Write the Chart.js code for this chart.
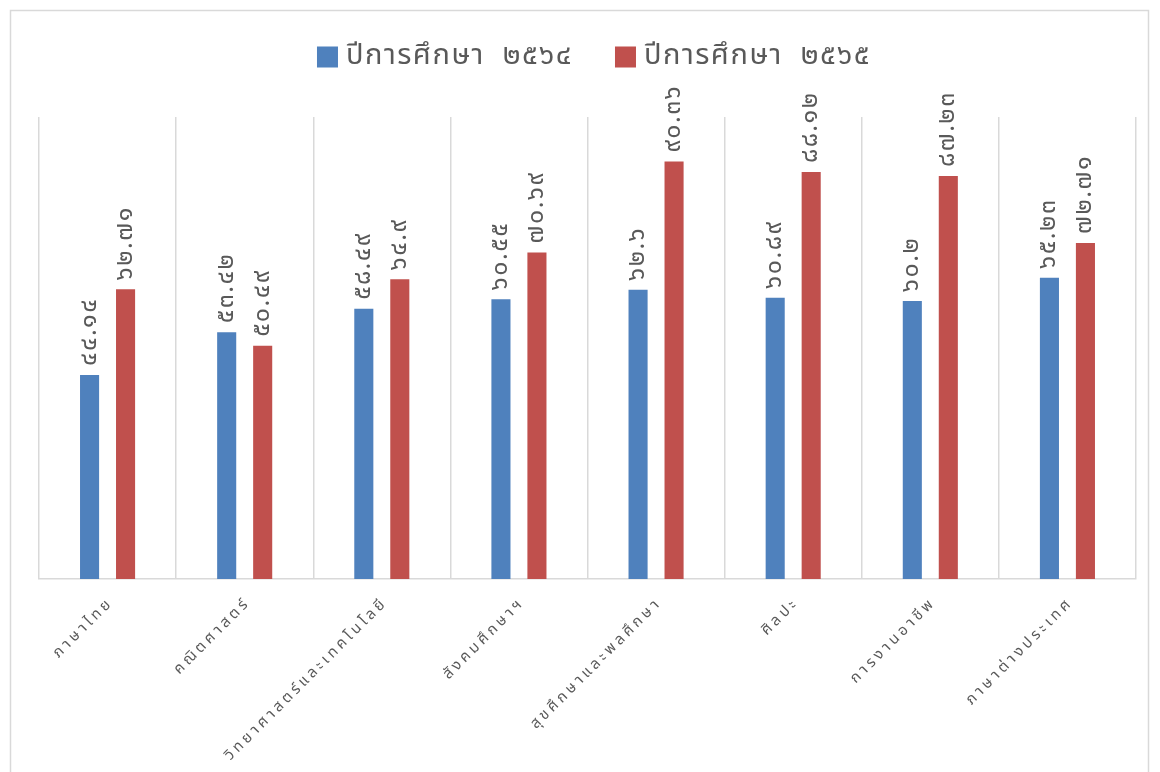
<!DOCTYPE html>
<html><head><meta charset="utf-8">
<script src="https://cdn.jsdelivr.net/npm/chart.js@4.4.0/dist/chart.umd.min.js"></script>
<style>html,body{margin:0;padding:0;background:#fff}#wrap{width:1160px;height:772px;position:relative}</style>
</head><body><div id="wrap"><canvas id="c" width="1160" height="772"></canvas></div>
<script>
const categories = ['ภาษาไทย','คณิตศาสตร์','วิทยาศาสตร์และเทคโนโลยี','สังคมศึกษาฯ','สุขศึกษาและพลศึกษา','ศิลปะ','การงานอาชีพ','ภาษาต่างประเทศ'];
const series2564 = [44.14, 53.42, 58.49, 60.55, 62.6, 60.89, 60.2, 65.23];
const series2565 = [62.71, 50.49, 64.9, 70.69, 90.36, 88.12, 87.23, 72.71];
const seriesNames = ['ปีการศึกษา ๒๕๖๔', 'ปีการศึกษา ๒๕๖๕'];
const seriesColors = ['#4f81bd', '#c0504d'];
const yMin = 0, yMax = 100;

const THAI_DIGITS = '๐๑๒๓๔๕๖๗๘๙';
function toThai(v){ return String(v).replace(/[0-9]/g, d => THAI_DIGITS[+d]); }

const FONT = '"Noto Sans Thai", "Noto Sans", "DejaVu Sans", sans-serif';
const TEXT = '#595959';
const GRID = '#d9d9d9';

const frame = { id:'frame', beforeDraw(chart){ const c=chart.ctx; c.save(); c.strokeStyle=GRID; c.lineWidth=1.5; c.strokeRect(10.5,10.5,1138,800); c.restore(); } };

const legendPlugin = { id:'customLegend', afterDraw(chart){
  const c=chart.ctx; c.save();
  c.font='29px '+FONT; c.letterSpacing='1.5px'; c.wordSpacing='9px'; c.fillStyle=TEXT; c.textBaseline='middle'; c.textAlign='left';
  const box=21, gap=8, itemGap=42;
  const items = chart.data.datasets.map(ds => ({label:ds.label, color:ds.backgroundColor, w: c.measureText(ds.label).width}));
  const total = items.reduce((s,it)=>s+box+gap+it.w,0) + itemGap*(items.length-1);
  let x = 594 - total/2; const y = 57;
  items.forEach(it => {
    c.fillStyle=it.color; c.fillRect(x, y-box/2, box, box);
    c.fillStyle=TEXT; c.fillText(it.label, x+box+gap, y+1);
    x += box+gap+it.w+itemGap;
  });
  c.restore();
}};

const valueLabels = { id:'valueLabels', afterDatasetsDraw(chart){
  const c=chart.ctx; c.save(); c.font='25px '+FONT; c.letterSpacing='1.5px'; c.fillStyle=TEXT; c.textAlign='left'; c.textBaseline='middle';
  chart.data.datasets.forEach((ds,i)=>{ chart.getDatasetMeta(i).data.forEach((bar,j)=>{
    c.save(); c.translate(bar.x+1, bar.y-9); c.rotate(-Math.PI/2); c.fillText(toThai(ds.data[j]),0,0); c.restore();
  }); });
  c.restore();
}};

const xLabels = { id:'xLabels', afterDraw(chart){
  const sc=chart.scales.x; const c=chart.ctx; c.save();
  c.font='15px '+FONT; c.fillStyle=TEXT; c.letterSpacing='3.5px'; c.textAlign='right'; c.textBaseline='middle';
  chart.data.labels.forEach((lab,i)=>{ const x=sc.getPixelForValue(i); const y=sc.bottom+22;
    c.save(); c.translate(x+4,y); c.rotate(-Math.PI/4); c.fillText(lab,0,0); c.restore(); });
  c.restore();
}};

new Chart(document.getElementById('c'), {
  type:'bar',
  data:{ labels: categories, datasets:[
    {label: seriesNames[0], data: series2564, backgroundColor: seriesColors[0], categoryPercentage:0.525, barPercentage:0.53},
    {label: seriesNames[1], data: series2565, backgroundColor: seriesColors[1], categoryPercentage:0.525, barPercentage:0.53}
  ]},
  options:{
    responsive:false, animation:false, devicePixelRatio:1,
    layout:{ padding:{ left:39, right:24, top:117, bottom:193 } },
    plugins:{ legend:{display:false}, tooltip:{enabled:false} },
    scales:{
      x:{ offset:true, grid:{ offset:true, color:GRID, lineWidth:1.5, drawTicks:false }, border:{ color:GRID, width:1.5 }, ticks:{ display:false } },
      y:{ display:false, min:yMin, max:yMax }
    }
  },
  plugins:[frame, legendPlugin, valueLabels, xLabels]
});
</script></body></html>
